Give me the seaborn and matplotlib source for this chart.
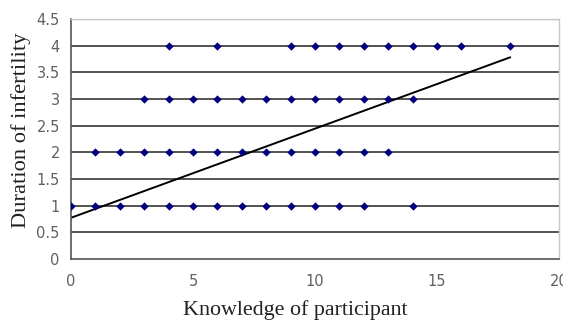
import matplotlib
matplotlib.use("Agg")
import matplotlib.pyplot as plt
import seaborn as sns
import pandas as pd

# data
x_dur1 = [0, 1, 2, 3, 4, 5, 6, 7, 8, 9, 10, 11, 12, 14]
x_dur2 = [1, 2, 3, 4, 5, 6, 7, 8, 9, 10, 11, 12, 13]
x_dur3 = [3, 4, 5, 6, 7, 8, 9, 10, 11, 12, 13, 14]
x_dur4 = [4, 6, 9, 10, 11, 12, 13, 14, 15, 16, 18]
trend_x = [0, 18]
trend_y = [0.77, 3.78]
x_ticks = [0, 5, 10, 15, 20]
y_ticks = [0, 0.5, 1, 1.5, 2, 2.5, 3, 3.5, 4, 4.5]

rows = []
for dur, xs in [(1, x_dur1), (2, x_dur2), (3, x_dur3), (4, x_dur4)]:
    for xv in xs:
        rows.append({"knowledge": xv, "duration": dur})
df = pd.DataFrame(rows)

sns.set_style("white")
fig = plt.figure(figsize=(5.63, 3.2), dpi=100)
ax = fig.add_axes([0.126, 0.191, 0.867, 0.750])

for yv in y_ticks[1:-1]:
    ax.axhline(yv, color="#444444", lw=1.3, zorder=1)
ax.axhline(4.5, color="#c8c8c8", lw=1.0, zorder=1)

sns.lineplot(x=trend_x, y=trend_y, color="black", lw=1.4, ax=ax, zorder=2)
sns.scatterplot(data=df, x="knowledge", y="duration", marker="D", s=18,
                color="#000080", edgecolor="#000080", linewidth=0, ax=ax, zorder=3)

ax.set_xlim(0, 20)
ax.set_ylim(0, 4.5)
ax.set_xticks(x_ticks)
ax.set_yticks(y_ticks)
ax.set_yticklabels([f"{v:g}" for v in y_ticks])
ax.tick_params(axis="both", labelsize=10.5, colors="#555555", length=4, width=1,
               direction="out", labelcolor="#606060")
ax.tick_params(axis="x", pad=7)
ax.tick_params(axis="y", pad=4)

for s in ["left", "bottom"]:
    ax.spines[s].set_color("#555555")
    ax.spines[s].set_linewidth(1.2)
for s in ["top", "right"]:
    ax.spines[s].set_color("#c8c8c8")
    ax.spines[s].set_linewidth(1.0)

ax.set_xlabel("Knowledge of participant", family="Liberation Serif", fontsize=15.8,
              color="#222222")
ax.set_ylabel("Duration of infertility", family="Liberation Serif", fontsize=16.2,
              color="#222222")
ax.xaxis.set_label_coords(0.459, -0.17)
ax.yaxis.set_label_coords(-0.082, 0.535)
ax.grid(False)

fig.savefig("out.png", dpi=100)
